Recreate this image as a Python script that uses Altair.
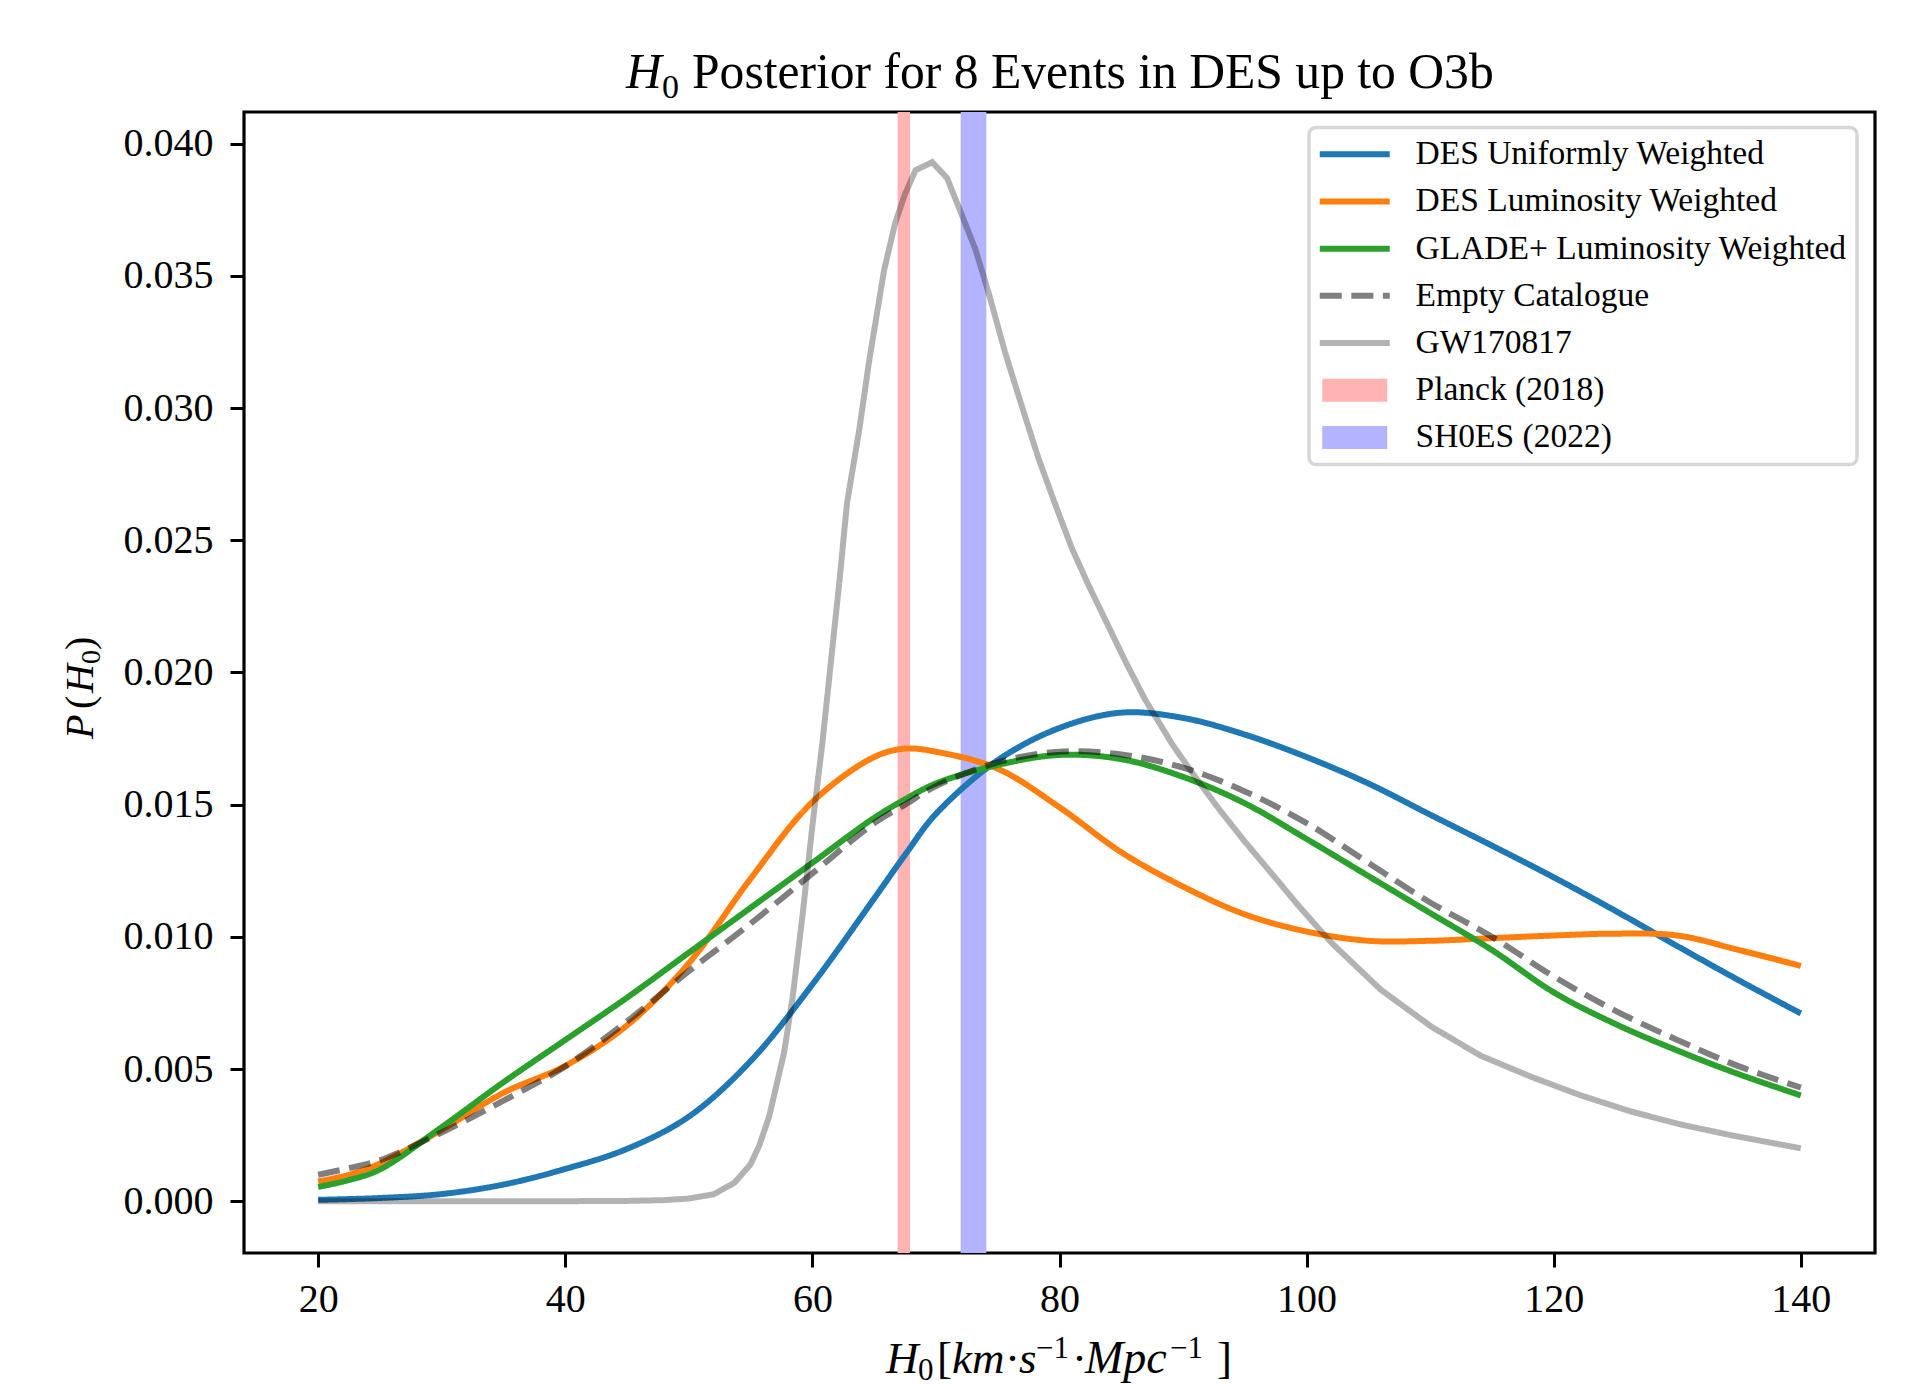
import altair as alt
import pandas as pd

# ---------------- data ----------------
H0_GRID = [20, 22.5, 25, 30, 35, 40, 45, 50, 55, 60, 65, 67.5, 70, 75, 80, 85,
           90, 95, 100, 105, 110, 115, 120, 125, 130, 135, 140]

DES_UNIFORM = [0.00005, 0.00008, 0.00012, 0.00027, 0.00063, 0.00122, 0.00198, 0.0032,
               0.0053, 0.0082, 0.01145, 0.0131, 0.01465, 0.01668, 0.0179, 0.01848,
               0.01828, 0.01765, 0.0168, 0.0158, 0.01462, 0.01345, 0.01225, 0.01098,
               0.00965, 0.00835, 0.0071]

DES_LUMINOSITY = [0.00075, 0.0010, 0.00143, 0.0027, 0.0041, 0.00512, 0.00665, 0.0090,
                  0.0122, 0.0151, 0.0168, 0.01712, 0.0170, 0.01636, 0.0149, 0.0132,
                  0.0119, 0.01085, 0.0102, 0.00985, 0.00985, 0.00995, 0.01005, 0.01012,
                  0.01005, 0.0095, 0.0089]

GLADE_LUMINOSITY = [0.00054, 0.0008, 0.0012, 0.0028, 0.0045, 0.0061, 0.0077, 0.0094,
                    0.0111, 0.0128, 0.0145, 0.0152, 0.0158, 0.0165, 0.01688, 0.01672,
                    0.01605, 0.01505, 0.0137, 0.0123, 0.0109, 0.0095, 0.0079, 0.0067,
                    0.0057, 0.0048, 0.0040]

EMPTY_CATALOGUE = [0.0010, 0.00125, 0.00155, 0.0026, 0.0038, 0.0051, 0.0068, 0.0087,
                   0.0105, 0.0124, 0.0143, 0.0150, 0.0157, 0.0166, 0.0170, 0.0169,
                   0.0164, 0.0155, 0.0143, 0.0128, 0.0113, 0.0100, 0.0085, 0.0072,
                   0.0061, 0.0051, 0.0043]

GW_H0 = [20, 30, 40, 45, 48, 50, 52, 53.7, 55, 55.7, 56.5, 57.7, 58.4, 59.2, 60.0,
         60.8, 61.5, 62.2, 62.8, 63.8, 64.6, 65.8, 66.7, 67.5, 68.35, 69.7, 70.9,
         72.1, 73.2, 74.3, 75.6, 77.0, 78.3, 79.7, 81.0, 82.35, 83.7, 85.3, 86.9,
         89.1, 90.9, 92.8, 95.0, 97.7, 99.3, 102, 106, 110.1, 114.1, 118.2, 122.2,
         126.2, 130.3, 134.3, 140]
GW_POSTERIOR = [0, 0, 0, 0.00001, 0.00004, 0.0001, 0.00026, 0.0007, 0.0014, 0.0021,
                0.0032, 0.0056, 0.0077, 0.0108, 0.0142, 0.0173, 0.0204, 0.0235, 0.0264,
                0.0292, 0.0318, 0.0352, 0.0370, 0.0381, 0.0390, 0.0393, 0.0387, 0.0373,
                0.0360, 0.0343, 0.0321, 0.0300, 0.0281, 0.0263, 0.0247, 0.0233, 0.0220,
                0.02045, 0.0190, 0.0173, 0.0161, 0.0149, 0.0136, 0.0121, 0.0112,
                0.00978, 0.0080, 0.0066, 0.0055, 0.0047, 0.0040, 0.0034, 0.0029, 0.0025,
                0.0020]

BAND_NAMES = ["Planck (2018)", "SH0ES (2022)"]
BAND_LO = [66.9, 72.0]
BAND_HI = [67.9, 74.08]

SERIES = ["DES Uniformly Weighted", "DES Luminosity Weighted",
          "GLADE+ Luminosity Weighted", "Empty Catalogue", "GW170817",
          "Planck (2018)", "SH0ES (2022)"]
COLORS = ["#1f77b4", "#ff7f0e", "#2ca02c", "rgba(0,0,0,0.5)", "rgba(0,0,0,0.3)",
          "#ffb3b3", "#b3b3ff"]
DASHES = [[1, 0], [1, 0], [1, 0], [22, 9.6], [1, 0], [1, 0], [1, 0]]

X_TICKS = [20, 40, 60, 80, 100, 120, 140]
Y_TICKS = [0.0, 0.005, 0.010, 0.015, 0.020, 0.025, 0.030, 0.035, 0.040]

TITLE_MAIN = "Posterior for 8 Events in DES up to O3b"

# ---------------- tables ----------------
curve_values = [DES_UNIFORM, DES_LUMINOSITY, GLADE_LUMINOSITY, EMPTY_CATALOGUE]
rows = []
for name, vals in zip(SERIES[:4], curve_values):
    for h, p in zip(H0_GRID, vals):
        rows.append({"H0": h, "P": p, "series": name})
for h, p in zip(GW_H0, GW_POSTERIOR):
    rows.append({"H0": h, "P": p, "series": "GW170817"})
curves = pd.DataFrame(rows)
bands = pd.DataFrame({"series": BAND_NAMES, "lo": BAND_LO, "hi": BAND_HI})

SERIF = "Liberation Serif"
W, H = 1631, 1141

x_scale = alt.Scale(domain=[14, 146], nice=False, zero=False)
y_scale = alt.Scale(domain=[-0.00196, 0.0412], nice=False, zero=False)
x_axis = alt.Axis(values=X_TICKS, format="d", labelPadding=44,
                  labelBaseline="alphabetic", title="")
y_axis = alt.Axis(values=Y_TICKS, format=".3f", labelPadding=17, title="")

RECT_PATH = "M-3.25,-1.15H3.25V1.15H-3.25Z"
LINE_PATH = "M-3.5,0H3.5"
IS_BAND = "indexof(['Planck (2018)','SH0ES (2022)'], datum.value) >= 0"
legend = alt.Legend(
    title=None, orient="none", legendX=1065, legendY=15.5, direction="vertical",
    labelFont=SERIF, labelFontSize=33.5, labelColor="black", labelLimit=0,
    symbolSize=400, symbolOpacity=1,
    symbolStrokeWidth=alt.ExprRef(expr="%s ? 0 : 6" % IS_BAND),
    symbolType=alt.ExprRef(expr="%s ? '%s' : '%s'" % (IS_BAND, RECT_PATH, LINE_PATH)),
    symbolFillColor=alt.ExprRef(expr="scale('color', datum.value)"),
    symbolStrokeColor=alt.ExprRef(expr="scale('color', datum.value)"),
    symbolOffset=19, labelOffset=44, rowPadding=12.2, padding=10,
    strokeColor="#d6d6d6", fillColor="white", cornerRadius=7,
)
color = alt.Color("series:N", scale=alt.Scale(domain=SERIES, range=COLORS),
                  legend=legend, title=None)
dash = alt.StrokeDash("series:N", scale=alt.Scale(domain=SERIES, range=DASHES),
                      legend=legend, title=None)

band_layer = alt.Chart(bands).mark_rect().encode(
    x=alt.X("lo:Q", scale=x_scale, axis=x_axis),
    x2="hi:Q",
    color=color,
)

line_layers = []
for name in SERIES[:5]:
    interp = "linear" if name == "GW170817" else "catmull-rom"
    line_layers.append(
        alt.Chart(curves).transform_filter(alt.datum.series == name)
        .mark_line(strokeWidth=6, interpolate=interp, clip=True, strokeCap="butt")
        .encode(
            x=alt.X("H0:Q", scale=x_scale, axis=x_axis),
            y=alt.Y("P:Q", scale=y_scale, axis=y_axis),
            color=color,
            strokeDash=dash,
        )
    )


def text_layer(txt, x, y, size, style="normal", angle=0):
    return alt.Chart(alt.Data(values=[{"t": txt}])).mark_text(
        font=SERIF, fontSize=size, fontStyle=style, align="left",
        baseline="alphabetic", angle=angle, color="black",
    ).encode(x=alt.value(x), y=alt.value(y), text=alt.Text("t:N"))


XB = 1261  # x-title baseline
texts = [
    # title
    text_layer("H", 382, -24, 49.6, "italic"),
    text_layer("0", 418, -14, 34),
    text_layer(TITLE_MAIN, 448, -24, 49.6),
    # x-axis title
    text_layer("H", 642, XB, 45, "italic"),
    text_layer("0", 674, XB + 7, 31),
    text_layer("[", 693, XB, 45),
    text_layer("km", 708, XB, 45, "italic"),
    text_layer("\u00b7", 761, XB, 45),
    text_layer("s", 775, XB, 45, "italic"),
    text_layer("\u22121", 792, XB - 15, 31),
    text_layer("\u00b7", 828, XB, 45),
    text_layer("Mpc", 841, XB, 46, "italic"),
    text_layer("\u22121", 926, XB - 15, 31),
    text_layer("]", 973, XB, 45),
    # y-axis title (rotated)
    text_layer("P", -151, 627, 40, "italic", 270),
    text_layer("(", -151, 597, 40, "normal", 270),
    text_layer("H", -151, 581, 40, "italic", 270),
    text_layer("0", -144, 552, 28, "normal", 270),
    text_layer(")", -151, 538, 40, "normal", 270),
]

chart = alt.layer(band_layer, *line_layers, *texts).properties(
    width=W, height=H,
    padding={"left": 236, "top": 104, "right": 29, "bottom": 140},
    autosize=alt.AutoSizeParams(type="none"),
    background="white",
).configure_view(
    stroke="black", strokeWidth=3.2
).configure_axis(
    labelFont=SERIF, labelFontSize=40, labelColor="black",
    tickColor="black", tickWidth=3, tickSize=14,
    domain=False, grid=False,
).configure_legend(
    strokeWidth=3.5
)

chart.save("out.html", embed_options={"renderer": "svg", "actions": False})
